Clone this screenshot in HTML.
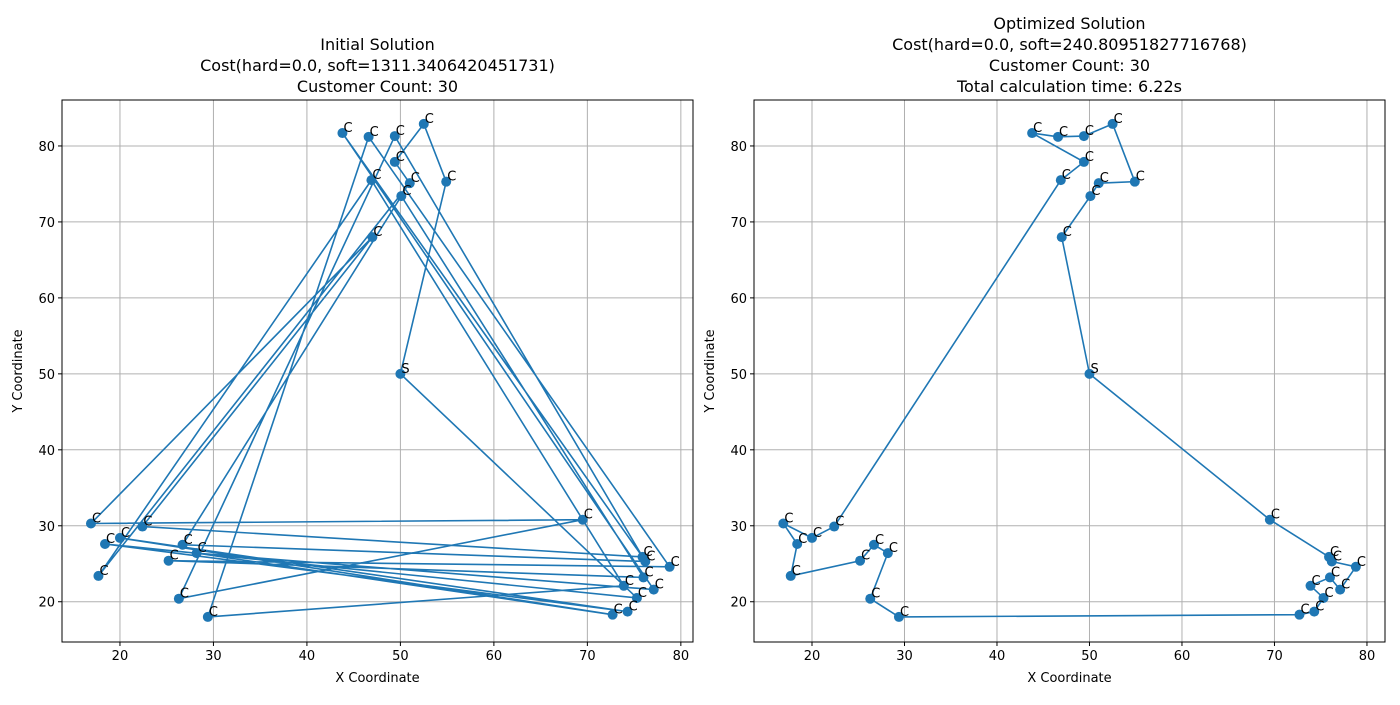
<!DOCTYPE html>
<html><head><meta charset="utf-8"><style>
body{margin:0;background:#fff;font-family:"Liberation Sans","DejaVu Sans",sans-serif}
svg text{font-family:"DejaVu Sans","Liberation Sans",sans-serif}
</style></head><body>
<svg id="c" width="1400" height="700" xmlns="http://www.w3.org/2000/svg"></svg>
<script>
const xs=[50,69.5,75.9,76.2,78.8,76.0,77.1,73.9,75.3,74.3,72.7,29.4,26.3,28.2,26.7,25.2,17.7,18.4,16.9,20.0,22.4,46.9,49.4,43.8,46.6,49.4,52.5,54.9,51.0,50.1,47.0];
const ys=[50,30.8,25.9,25.3,24.6,23.2,21.6,22.1,20.5,18.7,18.3,18.0,20.4,26.4,27.5,25.4,23.4,27.6,30.3,28.4,29.9,75.5,77.9,81.7,81.2,81.3,82.9,75.3,75.1,73.4,68.0];
const routeInitial=[0,8,17,9,19,10,13,6,23,2,20,30,18,1,12,25,3,14,29,5,15,4,24,11,7,21,16,28,22,26,27,0];
const routeOpt=[0,1,2,3,4,6,5,7,8,9,10,11,12,13,14,15,16,17,18,19,20,21,22,23,24,25,26,27,28,29,30,0];
const xTicks=[20,30,40,50,60,70,80];
const yTicks=[20,30,40,50,60,70,80];
const titleInit=["Initial Solution","Cost(hard=0.0, soft=1311.3406420451731)","Customer Count: 30"];
const titleOpt=["Optimized Solution","Cost(hard=0.0, soft=240.80951827716768)","Customer Count: 30","Total calculation time: 6.22s"];
const svg=document.getElementById('c');
const NS='http://www.w3.org/2000/svg';
function mk(t,a,p){const e=document.createElementNS(NS,t);for(const k in a)e.setAttribute(k,a[k]);(p||svg).appendChild(e);return e;}
function panel(L,R,xmin,xmax,route,titles,name){
  const T=100,B=642,ymin=14.7,ymax=86.05;
  const sx=v=>L+(v-xmin)/(xmax-xmin)*(R-L);
  const sy=v=>B-(v-ymin)/(ymax-ymin)*(B-T);
  const g=mk('g',{});
  
  
  xTicks.forEach(v=>{const x=sx(v);
    const l=mk('line',{x1:x,x2:x,y1:T,y2:B,stroke:'#b0b0b0','stroke-width':1},g);
    
    mk('line',{x1:x,x2:x,y1:B,y2:B+4,stroke:'#000'},g);
    const t=mk('text',{x:x,y:B+18,'text-anchor':'middle','font-size':13},g);t.textContent=v;
    });
  yTicks.forEach(v=>{const y=sy(v);
    const l=mk('line',{x1:L,x2:R,y1:y,y2:y,stroke:'#b0b0b0','stroke-width':1},g);
    
    mk('line',{x1:L-4,x2:L,y1:y,y2:y,stroke:'#000'},g);
    const t=mk('text',{x:L-7,y:y+5,'text-anchor':'end','font-size':13},g);t.textContent=v;
    });
  const pts=route.map(i=>sx(xs[i])+','+sy(ys[i])).join(' ');
  const pl=mk('polyline',{points:pts,fill:'none',stroke:'#1f77b4','stroke-width':1.6},g);
  
  xs.forEach((v,i)=>{const c=mk('circle',{cx:sx(v),cy:sy(ys[i]),r:5,fill:'#1f77b4'},g);
    
    const t=mk('text',{x:sx(v)+1,y:sy(ys[i])-1,'font-size':13},g);t.textContent=i===0?'S':'C';
    });
  const fr=mk('rect',{x:L,y:T,width:R-L,height:B-T,fill:'none',stroke:'#000','stroke-width':1},g);
  
  const cx=(L+R)/2;
  titles.forEach((s,k)=>{const t=mk('text',{x:cx,y:92-(titles.length-1-k)*21,'text-anchor':'middle','font-size':16},g);t.textContent=s;
    });
  const xl=mk('text',{x:cx,y:682,'text-anchor':'middle','font-size':13},g);xl.textContent='X Coordinate';
  
  const yl=mk('text',{x:0,y:0,'text-anchor':'middle','font-size':13,transform:`translate(${L-40},${(T+B)/2}) rotate(-90)`},g);yl.textContent='Y Coordinate';
  
}
panel(62,693,13.8,81.3,routeInitial,titleInit,'initial-solution-panel');
panel(754,1385,13.73,81.95,routeOpt,titleOpt,'optimized-solution-panel');
</script>
</body></html>
